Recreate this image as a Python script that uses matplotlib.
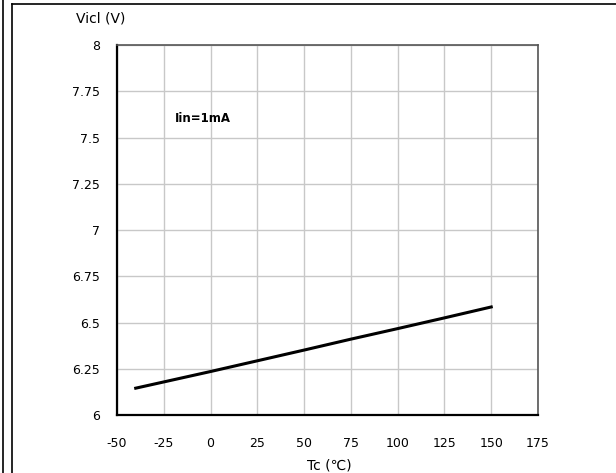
import matplotlib
matplotlib.use("Agg")
import matplotlib.pyplot as plt
from matplotlib.lines import Line2D

plt.rcParams["axes.unicode_minus"] = False

# temperature (C) vs clamp voltage (V)
tc = [-40, 0, 25, 50, 75, 100, 125, 150]
vicl = [6.145, 6.235, 6.293, 6.351, 6.41, 6.467, 6.525, 6.584]
x_ticks = [-50, -25, 0, 25, 50, 75, 100, 125, 150, 175]
y_ticks = [6, 6.25, 6.5, 6.75, 7, 7.25, 7.5, 7.75, 8]
y_labels = ["6", "6.25", "6.5", "6.75", "7", "7.25", "7.5", "7.75", "8"]

W, H = 616, 473
fig = plt.figure(figsize=(W / 100, H / 100), dpi=100)
ax = fig.add_axes([117 / W, 1 - 415 / H, (538 - 117) / W, (415 - 45) / H])

ax.plot(tc, vicl, color="black", lw=2.2)

ax.set_xlim(-50, 175)
ax.set_ylim(6, 8)
ax.set_xticks(x_ticks)
ax.set_yticks(y_ticks)
ax.set_yticklabels(y_labels)
ax.tick_params(length=0, labelsize=9, pad=12)
ax.tick_params(axis="x", pad=16)
ax.grid(True, color="#c8c8c8", lw=1)

for side in ["left", "bottom"]:
    ax.spines[side].set_color("black")
    ax.spines[side].set_linewidth(1.6)
for side in ["top", "right"]:
    ax.spines[side].set_color("#555555")
    ax.spines[side].set_linewidth(1.2)

ax.text(-19, 7.605, "Iin=1mA", fontsize=8.5, fontweight="bold", va="center")

fig.text(101 / W, 1 - 18 / H, "Vicl (V)", fontsize=10, ha="center", va="center")
fig.text(329 / W, 1 - 465 / H, "Tc (\u2103)", fontsize=10, ha="center", va="center")

# outer frame lines
fig.add_artist(Line2D([3 / W, 3 / W], [0, 1], color="black", lw=1.2))
fig.add_artist(Line2D([12 / W, 12 / W], [0, 1 - 4 / H], color="black", lw=1.2))
fig.add_artist(Line2D([12 / W, 1], [1 - 4 / H, 1 - 4 / H], color="black", lw=1.2))

fig.savefig("out.png", dpi=100)
